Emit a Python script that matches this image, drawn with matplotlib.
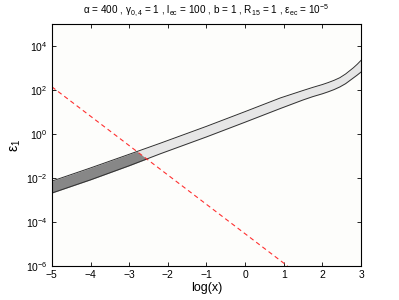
import matplotlib
matplotlib.use("Agg")
import matplotlib.pyplot as plt
import numpy as np
from matplotlib.patches import Polygon

# Data (log10(x) vs epsilon_1)
logx = [-5, -4, -3, -2.2, -1, 0, 0.91, 1.5, 1.75, 2, 2.15, 2.3, 2.45, 2.6, 2.7, 2.8, 2.9, 3]
upper_exp = [-2.14, -1.54, -0.92, -0.42, 0.35, 1.02, 1.64, 1.98, 2.12, 2.25, 2.34, 2.44,
             2.56, 2.73, 2.87, 3.01, 3.17, 3.35]
lower_exp = [-2.68, -2.08, -1.44, -0.90, -0.13, 0.54, 1.16, 1.55, 1.70, 1.83, 1.92, 2.02,
             2.14, 2.29, 2.42, 2.55, 2.68, 2.82]
upper = [10**e for e in upper_exp]
lower = [10**e for e in lower_exp]
red_x = [-5, 1.1]
red_y = [1.4e2, 1e-6]

title = r"$\alpha$ = 400 , $\gamma_{0,4}$ = 1 , l$_{\rm ec}$ = 100 , b = 1 , R$_{15}$ = 1 , $\varepsilon_{\rm ec}$ = 10$^{-5}$"

plt.rcParams['font.family'] = ['Liberation Sans', 'DejaVu Sans']
plt.rcParams['mathtext.fontset'] = 'custom'
plt.rcParams['mathtext.rm'] = 'Liberation Sans'
plt.rcParams['mathtext.it'] = 'Liberation Sans'
plt.rcParams['mathtext.sf'] = 'Liberation Sans'

fig = plt.figure(figsize=(3.99, 3.0), dpi=100)
ax = fig.add_axes([0.130, 0.113, 0.775, 0.807])
ax.set_facecolor('#fdfdfb')
ax.set_yscale('log')

# light band
ax.fill_between(logx, lower, upper, color='#e6e6e6', linewidth=0)
# dark band, clipped to region below the red line
dark = ax.fill_between(logx, lower, upper, color='#878787', linewidth=0)
clip = Polygon([(red_x[0], red_y[0]), (red_x[1], red_y[1]), (red_x[0], red_y[1])],
               closed=True, transform=ax.transData, facecolor='none', edgecolor='none')
ax.add_patch(clip)
dark.set_clip_path(clip)

ax.plot(logx, upper, color='#303030', lw=0.7)
ax.plot(logx, lower, color='#303030', lw=0.7)
ax.plot(red_x, red_y, color='#ff3030', lw=0.8, ls=(0, (4, 3)))

ax.set_xlim(-5, 3)
ax.set_ylim(1e-6, 1e5)
ax.set_xticks(range(-5, 4))
ax.set_xticklabels(['\u22125', '\u22124', '\u22123', '\u22122', '\u22121', '0', '1', '2', '3'])
ax.set_yticks([1e-6, 1e-4, 1e-2, 1e0, 1e2, 1e4])
ax.yaxis.set_minor_locator(matplotlib.ticker.NullLocator())
ax.tick_params(direction='in', top=True, right=True, labelsize=7.5, length=3, width=0.6, pad=3)
for s in ax.spines.values():
    s.set_linewidth(0.8)

ax.set_xlabel('log(x)', fontsize=9, labelpad=1)
ax.set_ylabel(r'$\varepsilon_1$', fontsize=10, labelpad=2)
ax.set_title(title, fontsize=7.2, pad=7)

fig.savefig('out.png', dpi=100)
